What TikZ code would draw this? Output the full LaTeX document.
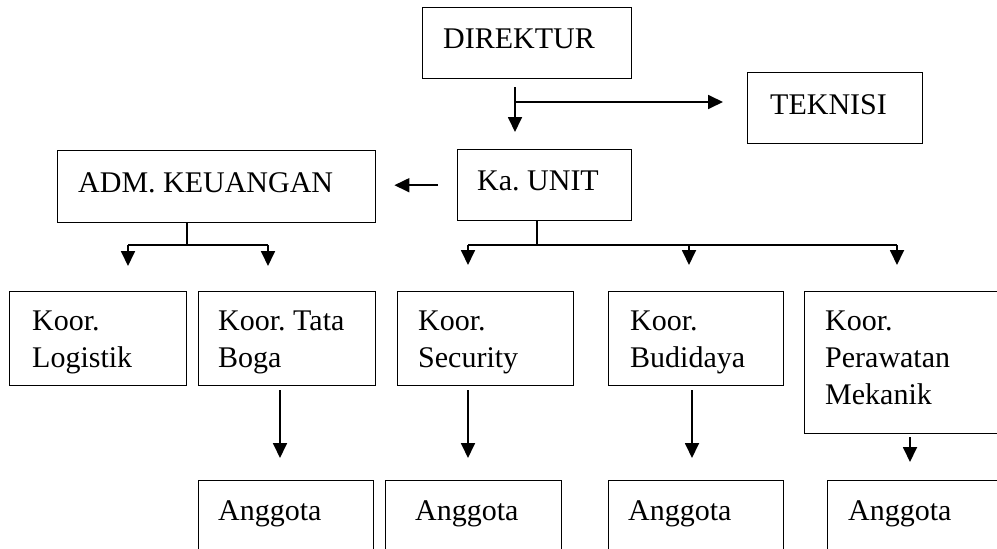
\documentclass[tikz,border=0pt]{standalone}
\usepackage{fontspec}
\setmainfont{Liberation Serif}
\usetikzlibrary{arrows.meta}
\newcommand\mlines[1]{\begin{tabular}[t]{@{}l@{}}#1\end{tabular}}
\frenchspacing
\begin{document}
\begin{tikzpicture}[x=1pt,y=-1pt,
  box/.style={draw, line width=1.4pt, rectangle, inner sep=0pt, anchor=north west},
  lbl/.style={anchor=base west, inner sep=0pt, font=\fontsize{30}{37}\selectfont\frenchspacing},
  ln/.style={line width=1.8pt},
  arr/.style={line width=1.8pt, -{Triangle[width=14pt,length=15pt]}}]
\path[use as bounding box] (0,0) rectangle (997,549);
\clip (0,0) rectangle (997,549);

% boxes
\node[box, minimum width=209pt, minimum height=71pt] (dir) at (422,7) {};
\node[box, minimum width=175pt, minimum height=71pt] (tek) at (747,72) {};
\node[box, minimum width=174pt, minimum height=71pt] (ku) at (457,149) {};
\node[box, minimum width=318pt, minimum height=72pt] (adm) at (57,150) {};
\node[box, minimum width=177pt, minimum height=94pt] (log) at (9,291) {};
\node[box, minimum width=177pt, minimum height=94pt] (boga) at (198,291) {};
\node[box, minimum width=176pt, minimum height=94pt] (sec) at (397,291) {};
\node[box, minimum width=175pt, minimum height=94pt] (bud) at (608,291) {};
\node[box, minimum width=230pt, minimum height=142pt] (per) at (804,291) {};
\node[box, minimum width=175pt, minimum height=100pt] (ang1) at (198,480) {};
\node[box, minimum width=176pt, minimum height=100pt] (ang2) at (385,480) {};
\node[box, minimum width=175pt, minimum height=100pt] (ang3) at (608,480) {};
\node[box, minimum width=200pt, minimum height=100pt] (ang4) at (827,480) {};

% texts
\node[lbl] (tdir) at (443,48) {DIREKTUR};
\node[lbl] (ttek) at (770,114) {TEKNISI};
\node[lbl] (tku) at (477,190) {Ka. UNIT};
\node[lbl] (tadm) at (78,192) {ADM. KEUANGAN};
\node[lbl] (tlog) at (32,330) {\mlines{Koor.\\Logistik}};
\node[lbl] (tboga) at (218,330) {\mlines{Koor. Tata\\Boga}};
\node[lbl] (tsec) at (418,330) {\mlines{Koor.\\Security}};
\node[lbl] (tbud) at (630,330) {\mlines{Koor.\\Budidaya}};
\node[lbl] (tper) at (825,330) {\mlines{Koor.\\Perawatan\\Mekanik}};
\node[lbl] (tang1) at (218,520) {Anggota};
\node[lbl] (tang2) at (415,520) {Anggota};
\node[lbl] (tang3) at (628,520) {Anggota};
\node[lbl] (tang4) at (848,520) {Anggota};

% connectors: DIREKTUR
\coordinate (j1) at (515,87);
\coordinate (j2) at (515,102);
\draw[arr, shorten >=17pt] (j1) -- (j1 |- ku.north);
\draw[arr, shorten >=24pt] (j2) -- (j2 -| tek.west);

% Ka. UNIT -> ADM
\draw[arr, shorten <=19pt, shorten >=18pt] (ku.west) -- (ku.west -| adm.east);

% ADM tree
\coordinate (as) at (187,222);
\coordinate (a1) at (128,245);
\coordinate (a2) at (268,245);
\draw[ln] (as) -- (as |- a1);
\draw[ln] (a1) -- (a2);
\draw[arr, shorten >=25pt] (a1) -- (a1 |- log.north);
\draw[arr, shorten >=25pt] (a2) -- (a2 |- boga.north);

% Ka. UNIT tree
\coordinate (ks) at (537,220);
\coordinate (k1) at (468,245);
\coordinate (k2) at (689,245);
\coordinate (k3) at (897,245);
\draw[ln] (ks) -- (ks |- k1);
\draw[ln] (k1) -- (k3);
\draw[arr, shorten >=26pt] (k1) -- (k1 |- sec.north);
\draw[arr, shorten >=26pt] (k2) -- (k2 |- bud.north);
\draw[arr, shorten >=26pt] (k3) -- (k3 |- per.north);

% to Anggota
\coordinate (c1) at (280,390);
\coordinate (c2) at (468,390);
\coordinate (c3) at (692,390);
\coordinate (c4) at (910,437);
\draw[arr, shorten >=22pt] (c1) -- (c1 |- ang1.north);
\draw[arr, shorten >=22pt] (c2) -- (c2 |- ang2.north);
\draw[arr, shorten >=22pt] (c3) -- (c3 |- ang3.north);
\draw[arr, shorten >=18pt] (c4) -- (c4 |- ang4.north);
\end{tikzpicture}
\end{document}
